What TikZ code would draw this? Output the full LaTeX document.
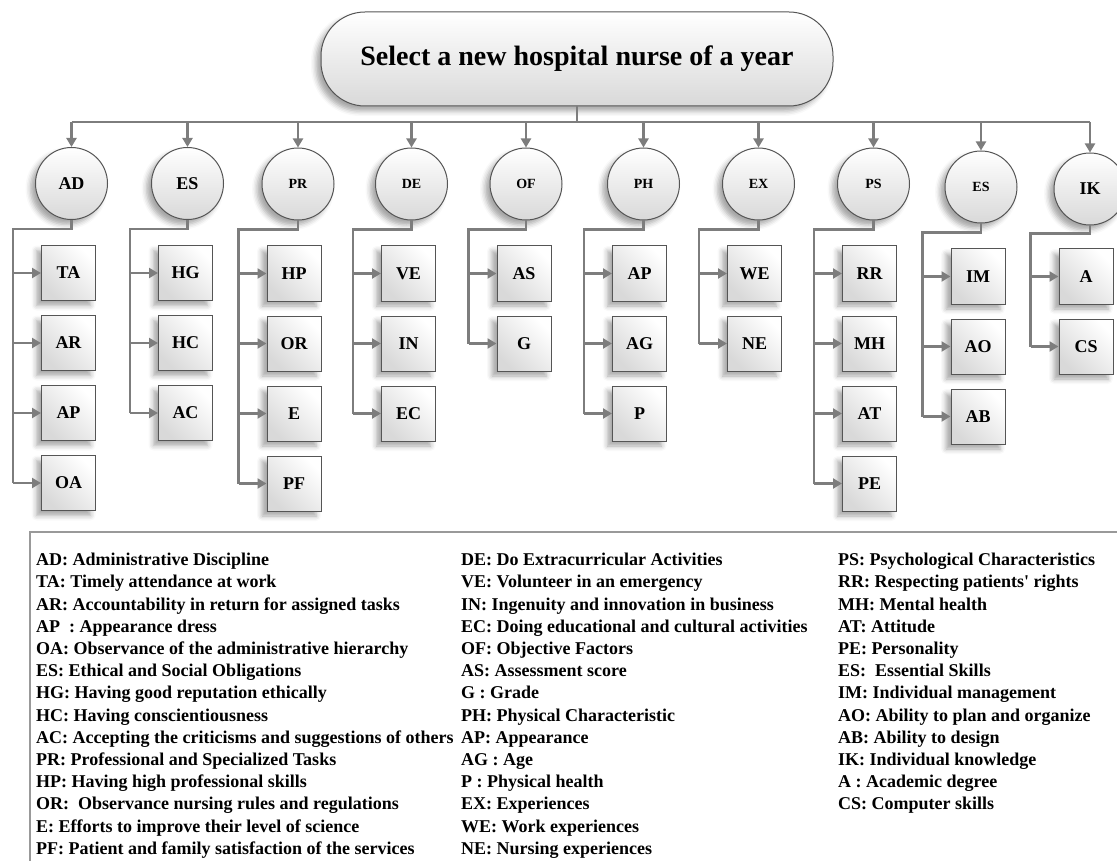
\documentclass[tikz,border=0pt]{standalone}
\usepackage{fontspec}
\setmainfont{Liberation Serif}
\usetikzlibrary{positioning, arrows.meta, shadows.blur}

\definecolor{linegray}{RGB}{125,125,125}
\definecolor{edgegray}{RGB}{85,85,85}

\tikzset{
  soft/.style={blur shadow={shadow xshift=-5pt, shadow yshift=-5pt, shadow blur radius=5pt, shadow opacity=35}},
  link/.style={color=linegray, line width=2.2pt},
  tip/.style={-{Triangle[length=9pt, width=10pt]}},
  goal/.style={rectangle, rounded corners=44pt, draw=edgegray, line width=1pt,
    minimum width=512pt, minimum height=94pt, top color=white, bottom color=gray!30,
    font=\bfseries\fontsize{28}{30}\selectfont, soft},
  crit/.style={circle, draw=edgegray, line width=1pt, minimum size=72pt, inner sep=0pt,
    top color=white, bottom color=gray!30, font=\bfseries\fontsize{14}{14}\selectfont, soft},
  big/.style={font=\bfseries\fontsize{18}{18}\selectfont},
  sub/.style={rectangle, draw=edgegray, line width=1pt, minimum width=54pt, minimum height=55pt,
    inner sep=0pt, top color=white, bottom color=gray!30, shading angle=-45,
    font=\bfseries\fontsize{18}{18}\selectfont, soft},
  keybox/.style={draw=gray!80, line width=1.2pt},
  key/.style={anchor=north west, inner sep=0pt, align=left, font=\bfseries\fontsize{18}{22.2}\selectfont}
}

\begin{document}
\begin{tikzpicture}[x=1pt, y=-1pt]
  \useasboundingbox (0,0) rectangle (1117,861);
  \clip (0,0) rectangle (1117,861);

  % goal
  \node [goal] (title) at (577,59) {Select a new hospital nurse of a year};
  \coordinate (bus) at (577,122);

  % criteria
  \node [crit, big] (ad) at (71.5,183.5) {AD};
  \node [crit, big] (es) at (187.5,183.5) {ES};
  \node [crit] (pr) at (298,184) {PR};
  \node [crit] (de) at (411.5,184) {DE};
  \node [crit] (of) at (526,184) {OF};
  \node [crit] (ph) at (643.5,184) {PH};
  \node [crit] (ex) at (758.5,184) {EX};
  \node [crit] (ps) at (873.5,184) {PS};
  \node [crit] (sk) at (981,187) {ES};
  \node [crit, big] (ik) at (1090,189) {IK};

  % sub-criteria
  \node [sub, below=25pt of ad, xshift=-3pt] (ta) {TA};
  \node [sub, below=14pt of ta] (ar) {AR};
  \node [sub, below=14pt of ar] (ap) {AP};
  \node [sub, below=14pt of ap] (oa) {OA};

  \node [sub, below=25pt of es, xshift=-2pt] (hg) {HG};
  \node [sub, below=14pt of hg] (hc) {HC};
  \node [sub, below=14pt of hc] (ac) {AC};

  \node [sub, below=25pt of pr, xshift=-4pt] (hp) {HP};
  \node [sub, below=14pt of hp] (or) {OR};
  \node [sub, below=14pt of or] (e) {E};
  \node [sub, below=14pt of e] (pf) {PF};

  \node [sub, below=25pt of de, xshift=-3pt] (ve) {VE};
  \node [sub, below=14pt of ve] (in) {IN};
  \node [sub, below=14pt of in] (ec) {EC};

  \node [sub, below=25pt of of, xshift=-2pt] (as) {AS};
  \node [sub, below=14pt of as] (g) {G};

  \node [sub, below=25pt of ph, xshift=-4pt] (pa) {AP};
  \node [sub, below=14pt of pa] (ag) {AG};
  \node [sub, below=14pt of ag] (p) {P};

  \node [sub, below=25pt of ex, xshift=-4pt] (we) {WE};
  \node [sub, below=14pt of we] (ne) {NE};

  \node [sub, below=25pt of ps, xshift=-4pt] (rr) {RR};
  \node [sub, below=14pt of rr] (mh) {MH};
  \node [sub, below=14pt of mh] (at) {AT};
  \node [sub, below=14pt of at] (pe) {PE};

  \node [sub, below=25pt of sk, xshift=-3pt] (im) {IM};
  \node [sub, below=14pt of im] (ao) {AO};
  \node [sub, below=14pt of ao] (ab) {AB};

  \node [sub, below=23pt of ik, xshift=-4pt] (a) {A};
  \node [sub, below=14pt of a] (cs) {CS};

  % goal to criteria
  \draw [link] (title.south) -- (bus);
  \draw [link] (ad |- bus) -- (ik |- bus);
  \path [link] (ad |- bus) edge [tip] (ad) (es |- bus) edge [tip] (es)
    (pr |- bus) edge [tip] (pr) (de |- bus) edge [tip] (de)
    (of |- bus) edge [tip] (of) (ph |- bus) edge [tip] (ph)
    (ex |- bus) edge [tip] (ex) (ps |- bus) edge [tip] (ps)
    (sk |- bus) edge [tip] (sk) (ik |- bus) edge [tip] (ik);

  % criteria to sub-criteria
  \draw [link] (ad.south) -- ++(0,-9pt) -| ([xshift=-28pt]oa.west) edge [tip] (oa.west)
    ([xshift=-28pt]ta.west) edge [tip] (ta.west)
    ([xshift=-28pt]ar.west) edge [tip] (ar.west)
    ([xshift=-28pt]ap.west) edge [tip] (ap.west);
  \draw [link] (es.south) -- ++(0,-9pt) -| ([xshift=-28pt]ac.west) edge [tip] (ac.west)
    ([xshift=-28pt]hg.west) edge [tip] (hg.west)
    ([xshift=-28pt]hc.west) edge [tip] (hc.west);
  \draw [link] (pr.south) -- ++(0,-9pt) -| ([xshift=-28pt]pf.west) edge [tip] (pf.west)
    ([xshift=-28pt]hp.west) edge [tip] (hp.west)
    ([xshift=-28pt]or.west) edge [tip] (or.west)
    ([xshift=-28pt]e.west) edge [tip] (e.west);
  \draw [link] (de.south) -- ++(0,-9pt) -| ([xshift=-28pt]ec.west) edge [tip] (ec.west)
    ([xshift=-28pt]ve.west) edge [tip] (ve.west)
    ([xshift=-28pt]in.west) edge [tip] (in.west);
  \draw [link] (of.south) -- ++(0,-9pt) -| ([xshift=-28pt]g.west) edge [tip] (g.west)
    ([xshift=-28pt]as.west) edge [tip] (as.west);
  \draw [link] (ph.south) -- ++(0,-9pt) -| ([xshift=-28pt]p.west) edge [tip] (p.west)
    ([xshift=-28pt]pa.west) edge [tip] (pa.west)
    ([xshift=-28pt]ag.west) edge [tip] (ag.west);
  \draw [link] (ex.south) -- ++(0,-9pt) -| ([xshift=-28pt]ne.west) edge [tip] (ne.west)
    ([xshift=-28pt]we.west) edge [tip] (we.west);
  \draw [link] (ps.south) -- ++(0,-9pt) -| ([xshift=-28pt]pe.west) edge [tip] (pe.west)
    ([xshift=-28pt]rr.west) edge [tip] (rr.west)
    ([xshift=-28pt]mh.west) edge [tip] (mh.west)
    ([xshift=-28pt]at.west) edge [tip] (at.west);
  \draw [link] (sk.south) -- ++(0,-9pt) -| ([xshift=-28pt]ab.west) edge [tip] (ab.west)
    ([xshift=-28pt]im.west) edge [tip] (im.west)
    ([xshift=-28pt]ao.west) edge [tip] (ao.west);
  \draw [link] (ik.south) -- ++(0,-8pt) -| ([xshift=-28pt]cs.west) edge [tip] (cs.west)
    ([xshift=-28pt]a.west) edge [tip] (a.west);

  % legend
  \draw [keybox] (30,532) rectangle (1135,880);
  \node [key] (keyA) at (36,553) {AD: Administrative Discipline\\
    TA: Timely attendance at work\\
    AR: Accountability in return for assigned tasks\\
    AP~~: Appearance dress\\
    OA: Observance of the administrative hierarchy\\
    ES: Ethical and Social Obligations\\
    HG: Having good reputation ethically\\
    HC: Having conscientiousness\\
    AC: Accepting the criticisms and suggestions of others\\
    PR: Professional and Specialized Tasks\\
    HP: Having high professional skills\\
    OR:~~Observance nursing rules and regulations\\
    E: Efforts to improve their level of science\\
    PF: Patient and family satisfaction of the services};
  \node [key] (keyB) at (461,553) {DE: Do Extracurricular Activities\\
    VE: Volunteer in an emergency\\
    IN: Ingenuity and innovation in business\\
    EC: Doing educational and cultural activities\\
    OF: Objective Factors\\
    AS: Assessment score\\
    G : Grade\\
    PH: Physical Characteristic\\
    AP: Appearance\\
    AG : Age\\
    P : Physical health\\
    EX: Experiences\\
    WE: Work experiences\\
    NE: Nursing experiences};
  \node [key] (keyC) at (838,553) {PS: Psychological Characteristics\\
    RR: Respecting patients\textquotesingle{} rights\\
    MH: Mental health\\
    AT: Attitude\\
    PE: Personality\\
    ES:~~Essential Skills\\
    IM: Individual management\\
    AO: Ability to plan and organize\\
    AB: Ability to design\\
    IK: Individual knowledge\\
    A : Academic degree\\
    CS: Computer skills};
\end{tikzpicture}
\end{document}
